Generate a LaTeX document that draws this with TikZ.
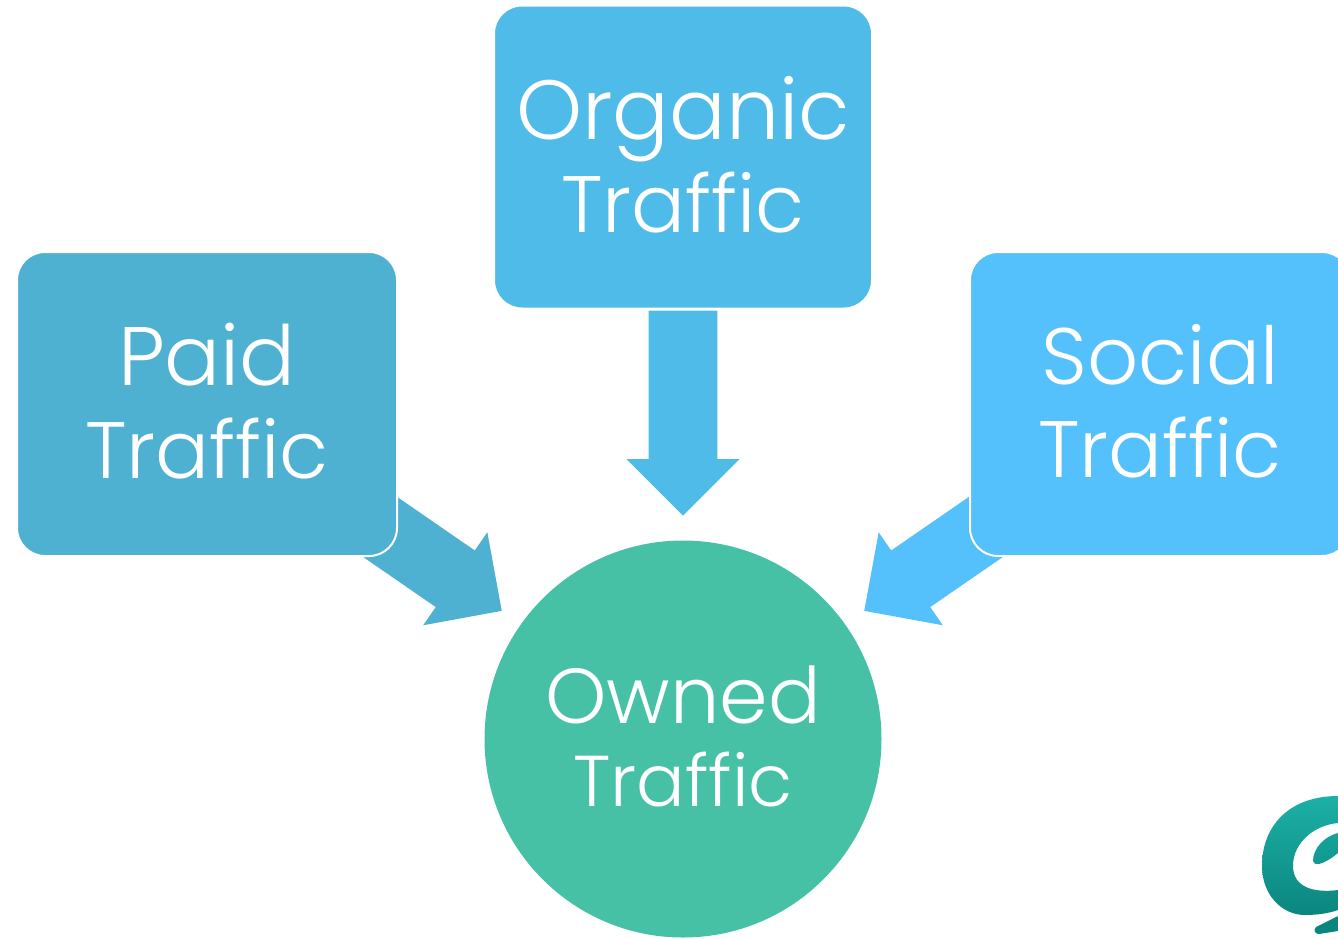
\documentclass[tikz,border=0pt]{standalone}
\usepackage{fontspec}
\setmainfont[UprightFont=* Light]{Poppins}
\usepackage{tikz}
\usetikzlibrary{positioning,shapes.arrows,calc}
\definecolor{paidblue}{HTML}{4EB1D1}
\definecolor{organicblue}{HTML}{4FBBE8}
\definecolor{socialblue}{HTML}{54C0FC}
\definecolor{ownedgreen}{HTML}{46C1A6}
\definecolor{logotop}{HTML}{1CB0A6}
\definecolor{logobottom}{HTML}{0B867F}
\newcommand{\liftline}{\\[-87pt]\mbox{}}
\begin{document}
\begin{tikzpicture}[x=1pt,y=-1pt]
\tikzstyle{source}=[rectangle,rounded corners=28pt,inner sep=0pt,draw=white,line width=2pt,text=white,align=center,font=\fontsize{80}{93}\selectfont]
\tikzstyle{sink}=[circle,inner sep=0pt,minimum size=397pt,fill=ownedgreen,text=white,align=center,font=\fontsize{72}{83}\selectfont]
\tikzstyle{flow}=[single arrow,anchor=tip,inner xsep=0pt,inner ysep=34pt,minimum width=113pt,single arrow head extend=22pt,single arrow head indent=0pt,minimum height=160pt]
\useasboundingbox (0,0) rectangle (1338,938);
	\node[flow,fill=organicblue,rotate=-90,minimum height=205pt] (organicflow) at (683,516) {};
	\node[flow,fill=paidblue,rotate=-34.6] (paidflow) at (502,611) {};
	\node[flow,fill=socialblue,rotate=214.6] (socialflow) at (864,611) {};
	\node[source,fill=paidblue,minimum width=380pt,minimum height=304pt] (paid) at (207,404) {{\fontsize{83}{93}\selectfont Paid}\\Traffic\liftline};
	\node[source,fill=organicblue,minimum width=378pt,minimum height=303pt] (organic) at (683,157) {{\fontsize{84}{93}\selectfont Organic}\\Traffic\liftline};
	\node[source,fill=socialblue,minimum width=380pt,minimum height=304pt] (social) at (1160,404) {Social\\Traffic\liftline};
	\node[sink] (owned) at (683,739) {{\fontsize{78}{83}\selectfont Owned}\\Traffic\\[-77pt]\mbox{}};
	\shade[top color=logotop,bottom color=logobottom,even odd rule]
		(1338,796) .. controls (1290,796) and (1262,825) .. (1262,866)
		.. controls (1262,895) and (1282,915) .. (1305,915)
		.. controls (1318,915) and (1330,913) .. (1338,910) -- (1338,890)
		.. controls (1315,893) and (1293,888) .. (1293,866)
		.. controls (1293,842) and (1315,825) .. (1338,823) -- cycle
		(1338,833) .. controls (1325,836) and (1313,848) .. (1313,861)
		.. controls (1314,866) and (1322,866) .. (1338,853) -- cycle;
	\fill[logobottom] (1338,916) -- (1316,927) .. controls (1313,930) and (1315,934) .. (1319,934) -- (1338,931) -- cycle;
\end{tikzpicture}
\end{document}
